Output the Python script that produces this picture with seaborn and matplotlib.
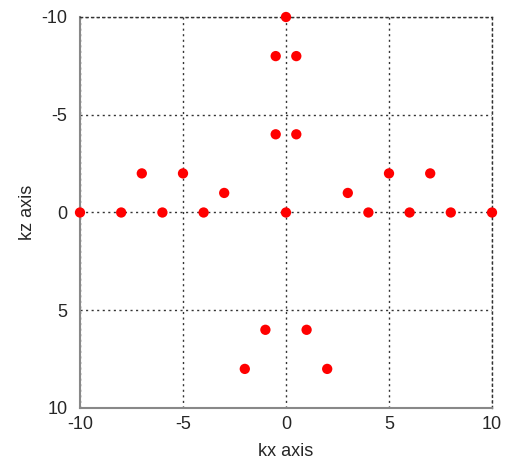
import matplotlib
matplotlib.use('Agg')
import matplotlib.pyplot as plt
import pandas as pd
import seaborn as sns

# sample points in k-space
kx = [0, -0.5, 0.5, -0.5, 0.5, -7, -5, -3, 3, 5, 7,
      -10, -8, -6, -4, 0, 4, 6, 8, 10, -1, 1, -2, 2]
kz = [-10, -8, -8, -4, -4, -2, -2, -1, -1, -2, -2,
      0, 0, 0, 0, 0, 0, 0, 0, 0, 6, 6, 8, 8]
ticks = [-10, -5, 0, 5, 10]

df = pd.DataFrame({'kx': kx, 'kz': kz})

sns.set_style('white')
plt.rcParams['font.family'] = ['Liberation Sans', 'DejaVu Sans']
plt.rcParams['axes.unicode_minus'] = False

fig = plt.figure(figsize=(5.11, 4.62), dpi=100)
ax = fig.add_axes([80 / 511, 1 - 408 / 462, 412 / 511, 391 / 462])

sns.scatterplot(data=df, x='kx', y='kz', ax=ax, color='#ff0000',
                s=55, edgecolor='none', clip_on=False, zorder=3)

ax.set_xlim(-10, 10)
ax.set_ylim(10, -10)
ax.set_xticks(ticks)
ax.set_yticks(ticks)
ax.tick_params(labelsize=13, direction='in', length=4, color='#444444')
ax.tick_params(axis='x', pad=6)
ax.tick_params(axis='y', pad=9)
ax.grid(True, color='#333333', linestyle=(0, (1.5, 2.5)), linewidth=1)
# top/right edges look like grid lines in the original
for side in ['top', 'right']:
    ax.spines[side].set_color('#333333')
    ax.spines[side].set_linestyle((0, (1.5, 2.5)))
    ax.spines[side].set_linewidth(1)
for side in ['left', 'bottom']:
    ax.spines[side].set_color('#888888')
    ax.spines[side].set_linewidth(1.5)

ax.set_xlabel('kx axis', fontsize=13, labelpad=7)
ax.set_ylabel('kz axis', fontsize=13, labelpad=4)

fig.savefig('out.png', dpi=100)
